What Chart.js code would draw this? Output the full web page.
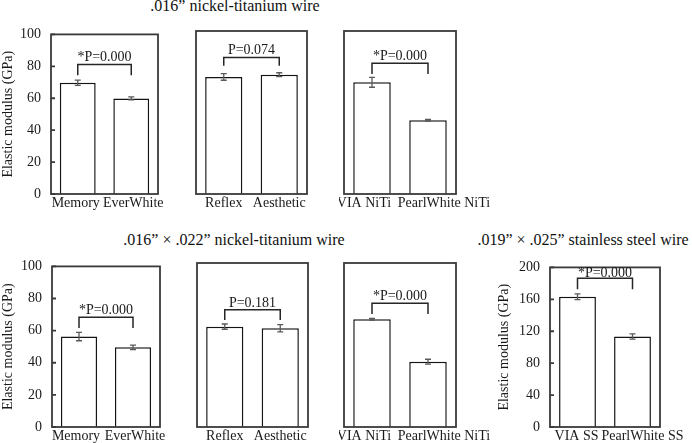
<!DOCTYPE html>
<html><head><meta charset="utf-8">
<script src="https://cdn.jsdelivr.net/npm/chart.js@4"></script>
<style>
html,body{margin:0;padding:0;background:#fff;width:692px;height:443px;overflow:hidden;}
body{position:relative;}
canvas{position:absolute;}
.ttl{position:absolute;font-family:'Liberation Serif','Times New Roman',serif;font-size:16px;line-height:16px;color:#111;white-space:nowrap;text-align:center;}
</style></head><body>
<div class="ttl" style="left:85px;top:-2px;width:300px">.016” nickel-titanium wire</div>
<div class="ttl" style="left:84px;top:232px;width:300px">.016” × .022” nickel-titanium wire</div>
<div class="ttl" style="left:463px;top:232px;width:240px">.019” × .025” stainless steel wire</div>
<script>
// ---- data ----
const catsMemory = ['Memory', 'EverWhite'];
const catsReflex = ['Reflex', 'Aesthetic'];
const catsViaNiTi = ['VIA NiTi', 'PearlWhite NiTi'];
const catsSS = ['VIA SS', 'PearlWhite SS'];

const niTiTicks = [0, 20, 40, 60, 80, 100];
const ssTicks = [0, 40, 80, 120, 160, 200];

// .016" NiTi
const mean016Memory = [69.7, 59.9];  const sd016Memory = [1.7, 0.9];
const mean016Reflex = [71.8, 73.2];  const sd016Reflex = [2.0, 1.2];
const mean016Via = [68.5, 45.2];     const sd016Via = [3.0, 0.5];
const pText016 = ['*P=0.000', 'P=0.074', '*P=0.000'];
const bracket016 = [81.2, 83.8, 80.2];
const bracketLeg016 = [74.4, 78.7, 73.6];

// .016" x .022" NiTi
const mean1622Memory = [56.3, 49.6]; const sd1622Memory = [2.6, 1.4];
const mean1622Reflex = [61.2, 60.2]; const sd1622Reflex = [1.6, 2.2];
const mean1622Via = [65.7, 39.8];    const sd1622Via = [0.5, 1.5];
const pText1622 = ['*P=0.000', 'P=0.181', '*P=0.000'];
const bracket1622 = [68.3, 71.5, 75.4];
const bracketLeg1622 = [61.6, 65.2, 68.9];

// .019" x .025" SS
const meanSS = [163.2, 113.3];       const sdSS = [3.5, 3.3];
const pTextSS = '*P=0.000';
const bracketSS = 186.5;
const bracketLegSS = 172.5;

const yTitle = 'Elastic modulus (GPa)';

// ---- layout (frames: left, top, right, bottom) ----
const FONT = "'Liberation Serif','Times New Roman',serif";
const panels = [
  {frame:[51,31,158,194], le:51, cats:catsMemory, mean:mean016Memory, err:sd016Memory, ticks:niTiTicks, showY:true, p:pText016[0], br:bracket016[0], leg:bracketLeg016[0], shift:[-2,2]},
  {frame:[196,31,307,194], le:5, cats:catsReflex, mean:mean016Reflex, err:sd016Reflex, ticks:niTiTicks, showY:false, p:pText016[1], br:bracket016[1], leg:bracketLeg016[1]},
  {frame:[344,31,456,194], le:5, cats:catsViaNiTi, mean:mean016Via, err:sd016Via, ticks:niTiTicks, showY:false, p:pText016[2], br:bracket016[2], leg:bracketLeg016[2], shift:[-8,16]},
  {frame:[52,263,160,427], le:52, cats:catsMemory, mean:mean1622Memory, err:sd1622Memory, ticks:niTiTicks, showY:true, p:pText1622[0], br:bracket1622[0], leg:bracketLeg1622[0], shift:[-3,2]},
  {frame:[197,263,308,427], le:5, cats:catsReflex, mean:mean1622Reflex, err:sd1622Reflex, ticks:niTiTicks, showY:false, p:pText1622[1], br:bracket1622[1], leg:bracketLeg1622[1]},
  {frame:[344,263,456,427], le:5, cats:catsViaNiTi, mean:mean1622Via, err:sd1622Via, ticks:niTiTicks, showY:false, p:pText1622[2], br:bracket1622[2], leg:bracketLeg1622[2], shift:[-8,16]},
  {frame:[550,264,660,427], le:54, cats:catsSS, mean:meanSS, err:sdSS, ticks:ssTicks, showY:true, p:pTextSS, br:bracketSS, leg:bracketLegSS, shift:[-1,10], pGap:1.5}
];

const TOP_EX = 15, RIGHT_EX = 40, BOT_EX = 20;

const extras = {
  id: 'extras',
  afterDraw(chart, args, o) {
    const p = o.panel;
    const {ctx, chartArea: a} = chart;
    const x = chart.scales.x, y = chart.scales.y;
    ctx.save();
    // error bars
    ctx.strokeStyle = '#5a5a5a'; ctx.lineWidth = 1.3;
    p.mean.forEach((m, i) => {
      const cx = x.getPixelForValue(i);
      const t = y.getPixelForValue(m + p.err[i]);
      const b = y.getPixelForValue(m - p.err[i]);
      ctx.beginPath();
      ctx.moveTo(cx, t); ctx.lineTo(cx, b);
      ctx.moveTo(cx - 3, t); ctx.lineTo(cx + 3, t);
      ctx.moveTo(cx - 3, b); ctx.lineTo(cx + 3, b);
      ctx.stroke();
    });
    // frame
    ctx.strokeStyle = '#3a3a3a'; ctx.lineWidth = 1.8;
    ctx.strokeRect(a.left, a.top, a.right - a.left, a.bottom - a.top);
    // inward tick marks
    if (p.showY) {
      ctx.beginPath();
      y.ticks.forEach(t => {
        const yy = y.getPixelForValue(t.value);
        ctx.moveTo(a.left, yy); ctx.lineTo(a.left + 4, yy);
      });
      ctx.stroke();
    }
    // significance bracket
    const x0 = x.getPixelForValue(0), x1 = x.getPixelForValue(1);
    const yb = y.getPixelForValue(p.br), yl = y.getPixelForValue(p.leg);
    ctx.strokeStyle = '#262626'; ctx.lineWidth = 1.5;
    ctx.beginPath();
    ctx.moveTo(x0, yl); ctx.lineTo(x0, yb); ctx.lineTo(x1, yb); ctx.lineTo(x1, yl);
    ctx.stroke();
    ctx.fillStyle = '#1a1a1a';
    ctx.font = '14px ' + FONT;
    ctx.textAlign = 'center'; ctx.textBaseline = 'alphabetic';
    ctx.fillText(p.p, (x0 + x1) / 2, yb - (p.pGap || 3));
    // shifted category labels
    if (p.shift) {
      ctx.textBaseline = 'middle';
      p.cats.forEach((c, i) => {
        ctx.fillText(c, x.getPixelForValue(i) + p.shift[i], a.bottom + 1 + 8.4);
      });
    }
    ctx.restore();
  }
};

panels.forEach((p, idx) => {
  const [L, T, R, B] = p.frame;
  const cv = document.createElement('canvas');
  const W = (R - L) + p.le + RIGHT_EX;
  const H = (B - T) + TOP_EX + BOT_EX;
  cv.width = W; cv.height = H;
  cv.style.left = (L - p.le) + 'px';
  cv.style.top = (T - TOP_EX) + 'px';
  cv.style.width = W + 'px'; cv.style.height = H + 'px';
  document.body.appendChild(cv);
  new Chart(cv, {
    type: 'bar',
    data: {
      labels: p.cats,
      datasets: [{
        data: p.mean,
        backgroundColor: '#ffffff',
        borderColor: '#141414',
        borderWidth: 1.5,
        barPercentage: 0.67,
        categoryPercentage: 1
      }]
    },
    options: {
      responsive: false,
      animation: false,
      devicePixelRatio: 1,
      layout: {padding: {left: 0, top: TOP_EX, right: RIGHT_EX, bottom: 0}},
      plugins: {
        legend: {display: false},
        tooltip: {enabled: false},
        extras: {panel: p}
      },
      scales: {
        x: {
          grid: {display: false, drawTicks: false},
          border: {display: false},
          ticks: {
            display: !p.shift,
            autoSkip: false, maxRotation: 0, minRotation: 0,
            padding: 1,
            color: '#1a1a1a',
            font: {family: FONT, size: 14}
          },
          afterFit: s => { s.height = BOT_EX; }
        },
        y: {
          min: p.ticks[0],
          max: p.ticks[p.ticks.length - 1],
          afterBuildTicks: s => { s.ticks = p.ticks.map(v => ({value: v})); },
          grid: {display: false, drawTicks: false},
          border: {display: false},
          ticks: {
            display: p.showY,
            padding: 10,
            color: '#1a1a1a',
            font: {family: FONT, size: 14}
          },
          title: {
            display: p.showY,
            text: yTitle,
            color: '#1a1a1a',
            padding: 0,
            font: {family: FONT, size: 14}
          },
          afterFit: s => { s.width = p.le; }
        }
      }
    },
    plugins: [extras]
  });
});
</script>
</body></html>
